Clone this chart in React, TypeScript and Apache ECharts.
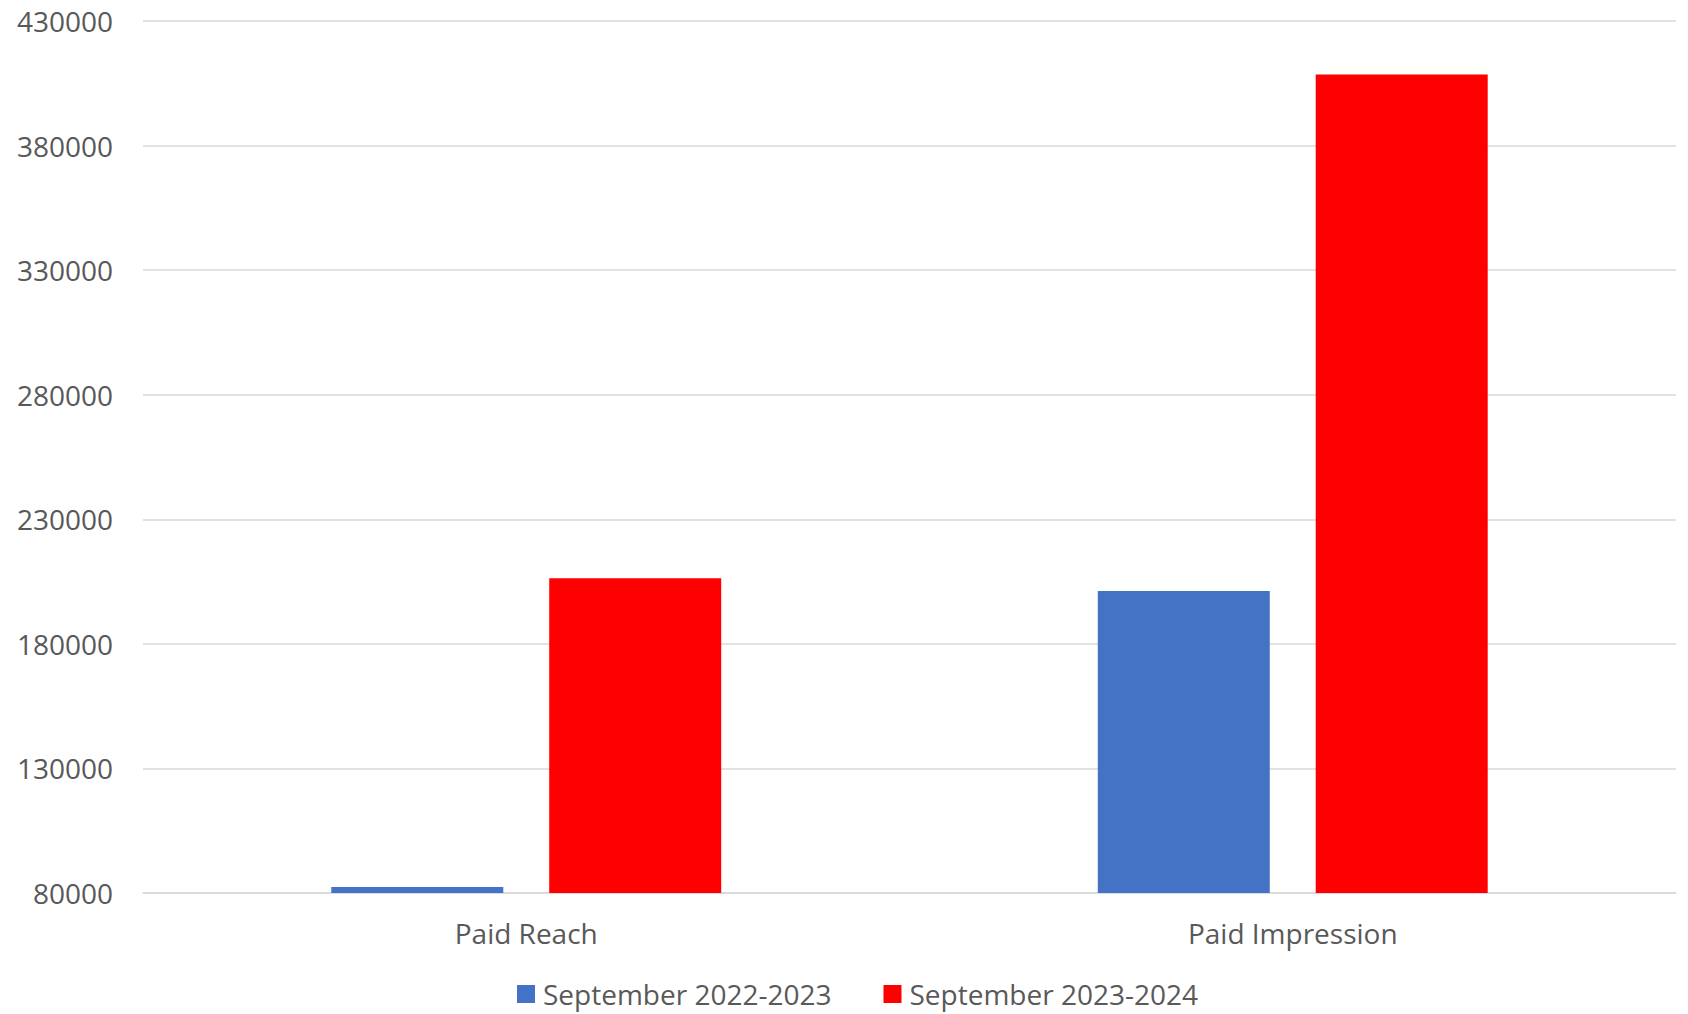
import React, { useEffect, useRef } from "react";
import * as echarts from "echarts";

const categories = ["Paid Reach", "Paid Impression"];
const seriesNames = ["September 2022-2023", "September 2023-2024"];
const values2022 = [82400, 201200];
const values2023 = [206300, 408500];
const yMin = 80000;
const yMax = 430000;
const yStep = 50000;

export default function App() {
  const ref = useRef<HTMLDivElement>(null);
  useEffect(() => {
    document.body.style.margin = "0";
    const chart = echarts.init(ref.current!, null, { renderer: "svg" });
    const font = "'Open Sans', sans-serif";
    chart.setOption({
      animation: false,
      backgroundColor: "#ffffff",
      textStyle: { fontFamily: font },
      grid: { left: 143, right: 12, top: 21, bottom: 121, containLabel: false },
      legend: {
        left: 512,
        top: 973,
        padding: 5,
        itemWidth: 18,
        itemHeight: 18,
        itemGap: 52,
        icon: "rect",
        textStyle: {
          fontSize: 28,
          lineHeight: 32,
          color: "#595959",
          fontFamily: font,
          padding: [0, 0, 0, 3],
        },
        data: seriesNames,
      },
      xAxis: {
        type: "category",
        data: categories,
        axisLine: { lineStyle: { color: "#d9d9d9", width: 1.5 } },
        axisTick: { show: false },
        axisLabel: { fontSize: 28, color: "#595959", margin: 26, fontFamily: font },
      },
      yAxis: {
        type: "value",
        min: yMin,
        max: yMax,
        interval: yStep,
        axisLine: { show: false },
        axisTick: { show: false },
        splitLine: { lineStyle: { color: "#d9d9d9", width: 1.5 } },
        axisLabel: {
          fontSize: 28,
          color: "#595959",
          margin: 30,
          fontFamily: font,
          formatter: (v: number) => String(v),
        },
      },
      series: [
        {
          name: seriesNames[0],
          type: "bar",
          data: values2022,
          itemStyle: { color: "#4472C4" },
          barWidth: 172,
          barGap: "26.7%",
        },
        {
          name: seriesNames[1],
          type: "bar",
          data: values2023,
          itemStyle: { color: "#FF0000" },
          barWidth: 172,
          barGap: "26.7%",
        },
      ],
    });
    return () => chart.dispose();
  }, []);
  return <div ref={ref} style={{ width: 1688, height: 1014 }} />;
}
